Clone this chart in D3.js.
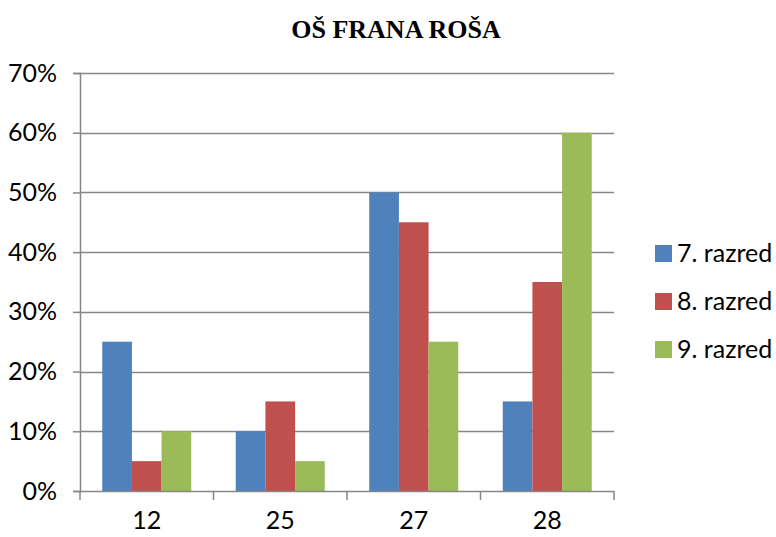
<!DOCTYPE html>
<html><head><meta charset="utf-8">
<script src="https://cdn.jsdelivr.net/npm/d3@7"></script>
<style>body{margin:0;background:#fff}svg{display:block}</style>
</head><body>
<script>
const categories = ["12", "25", "27", "28"];
const seriesNames = ["7. razred", "8. razred", "9. razred"];
const razred7 = [25, 10, 50, 15];
const razred8 = [5, 15, 45, 35];
const razred9 = [10, 5, 25, 60];
const yTicks = [0, 10, 20, 30, 40, 50, 60, 70];
const colors = ["#4F81BD", "#C0504D", "#9BBB59"];
const series = [razred7, razred8, razred9];

(function () {
const W = 776, H = 537;
const svg = d3.select("body").append("svg").attr("width", W).attr("height", H);
const pL = 80, pR = 614, pT = 73, pB = 491;

const x = d3.scaleBand().domain(categories).range([pL, pR]);
const y = d3.scaleLinear().domain([0, 70]).range([pB, pT]);
const bw = x.bandwidth() / 4.5;
const font = "Lato, 'Open Sans', sans-serif";

svg.append("g").selectAll("line").data(yTicks.slice(1)).join("line")
  .attr("x1", pL).attr("x2", pR)
  .attr("y1", d => Math.round(y(d)) + 0.5).attr("y2", d => Math.round(y(d)) + 0.5)
  .attr("stroke", "#868686").attr("stroke-width", 1.5);

series.forEach((vals, si) => {
  svg.append("g").selectAll("rect").data(vals).join("rect")
    .attr("x", (d, i) => x(categories[i]) + 0.75 * bw + si * bw)
    .attr("width", bw)
    .attr("y", d => y(d))
    .attr("height", d => pB - y(d))
    .attr("fill", colors[si]);
});

const yAxis = d3.axisLeft(y).tickValues(yTicks).tickFormat(d => d + "%").tickSize(7).tickPadding(16);
const gy = svg.append("g").attr("transform", `translate(${pL},0)`).call(yAxis);
gy.select(".domain").attr("stroke", "#868686").attr("stroke-width", 1.5);
gy.selectAll(".tick line").attr("stroke", "#868686").attr("stroke-width", 1.5);
gy.selectAll("text").attr("font-family", font).attr("font-size", 25).attr("fill", "#000");

const gx = svg.append("g").attr("transform", `translate(0,${pB})`)
  .call(d3.axisBottom(x).tickSize(0).tickPadding(20));
gx.select(".domain").remove();
gx.selectAll("text").attr("font-family", font).attr("font-size", 25).attr("fill", "#000");
svg.append("line").attr("x1", pL).attr("x2", pR).attr("y1", pB + 0.5).attr("y2", pB + 0.5)
  .attr("stroke", "#868686").attr("stroke-width", 1.5);
const bounds = categories.map(c => x(c)).concat([pR]);
svg.append("g").selectAll("line").data(bounds).join("line")
  .attr("x1", d => d).attr("x2", d => d).attr("y1", pB).attr("y2", pB + 9)
  .attr("stroke", "#868686").attr("stroke-width", 1.5);

svg.append("text").attr("x", 396).attr("y", 38).attr("text-anchor", "middle")
  .attr("font-family", "'Liberation Serif', 'Times New Roman', serif").attr("font-weight", "bold")
  .attr("font-size", 26).text("OŠ FRANA ROŠA");

const lg = svg.append("g");
seriesNames.forEach((n, i) => {
  const cy = 253 + i * 48;
  lg.append("rect").attr("x", 655).attr("y", cy - 8).attr("width", 17).attr("height", 17).attr("fill", colors[i]);
  lg.append("text").attr("x", 677).attr("y", cy).attr("dy", "0.35em")
    .attr("font-family", font).attr("font-size", 25).text(n);
});
})();
</script>
</body></html>
